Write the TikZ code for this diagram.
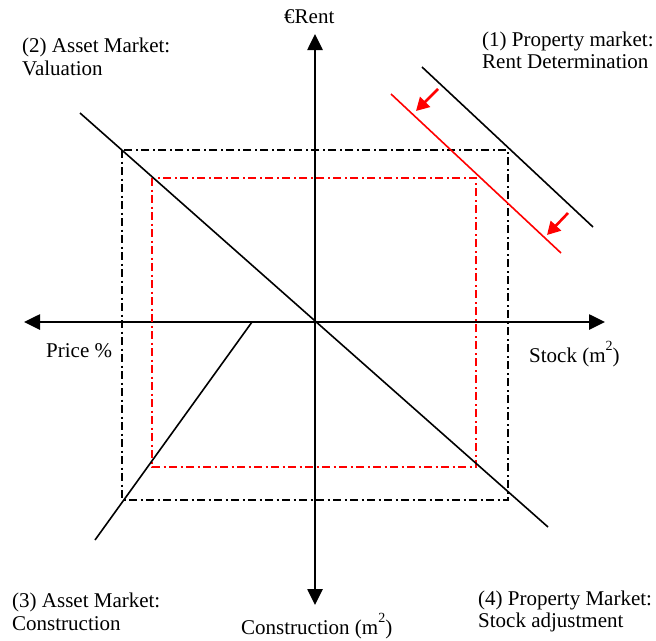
\documentclass[tikz,border=0pt]{standalone}
\usepackage{fontspec}
\setmainfont{Liberation Serif}
\usetikzlibrary{arrows.meta}
\newcommand{\sqsup}{\raisebox{12pt}{\fontsize{14}{14}\selectfont 2}}
\begin{document}
\begin{tikzpicture}[x=1pt,y=-1pt,
  axis/.style={line width=2.6pt,-{Triangle[length=16pt,width=15pt]}},
  curve/.style={line width=1.6pt},
  dashdot/.style={line width=1.4pt,dash pattern=on 8pt off 3.5pt on 2pt off 3.5pt},
  shiftarrow/.style={red,line width=2.6pt,-{Triangle[length=13pt,width=14pt]}},
  lbl/.style={font=\fontsize{21}{23}\selectfont,inner sep=0pt,anchor=base west}]
\useasboundingbox (0,0) rectangle (656,640);
% axes
\coordinate (O) at (315,322);
\coordinate (yt) at (315,34);
\coordinate (yb) at (315,605);
\coordinate (xl) at (24,322);
\coordinate (xr) at (605,322);
\draw[axis] (O) -- (yt);
\draw[axis] (O) -- (yb);
\draw[axis] (O) -- (xl);
\draw[axis] (O) -- (xr);
% rectangles
\coordinate (b1) at (122,150); \coordinate (b2) at (508,500);
\coordinate (r1) at (152,178); \coordinate (r2) at (476,467);
\draw[dashdot] (b1) rectangle (b2);
\draw[dashdot,red] (r1) rectangle (r2);
% lines
\coordinate (p1) at (422,67); \coordinate (p2) at (593,227);
\coordinate (q1) at (391,94); \coordinate (q2) at (561,253);
\draw[curve] (p1) -- (p2);
\draw[curve,red] (q1) -- (q2);
\coordinate (v1) at (80,113); \coordinate (v2) at (548,527);
\draw[curve] (v1) -- (v2);
\coordinate (c1) at (252,322); \coordinate (c2) at (95,540);
\draw[curve] (c1) -- (c2);
% shift arrows
\coordinate (a1s) at (438,89); \coordinate (a1e) at (416,111);
\coordinate (a2s) at (568,213); \coordinate (a2e) at (547,235);
\draw[shiftarrow] (a1s) -- (a1e);
\draw[shiftarrow] (a2s) -- (a2e);
% labels
\node[lbl] (rent) at (284,23) {€Rent};
\node[lbl] (l2a) at (22,52) {(2) Asset Market:};
\node[lbl] (l2b) at (22,75) {Valuation};
\node[lbl] (l1a) at (482,46) {(1) Property market:};
\node[lbl] (l1b) at (482,68) {Rent Determination};
\node[lbl] (price) at (46,357) {Price \%};
\node[lbl] (stock) at (529,362) {Stock (m\sqsup)};
\node[lbl] (l3a) at (12,607) {(3) Asset Market:};
\node[lbl] (l3b) at (12,630) {Construction};
\node[lbl] (constr) at (241,634) {Construction (m\sqsup)};
\node[lbl] (l4a) at (478,605) {(4) Property Market:};
\node[lbl] (l4b) at (478,627) {Stock adjustment};
\end{tikzpicture}
\end{document}
